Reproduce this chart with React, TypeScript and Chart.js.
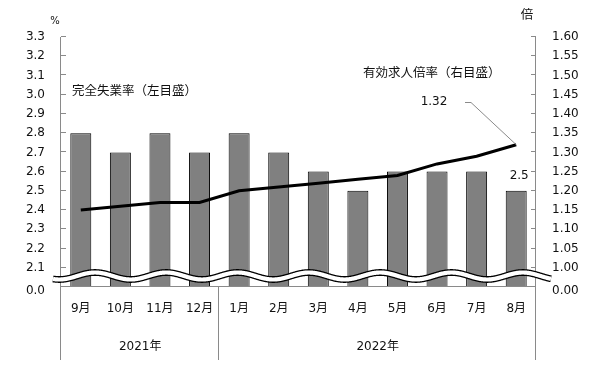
import React, { useEffect, useRef } from "react";
import { Chart, registerables } from "chart.js";

Chart.register(...registerables);

const months = ["9月", "10月", "11月", "12月", "1月", "2月", "3月", "4月", "5月", "6月", "7月", "8月"];
const unemployment = [2.8, 2.7, 2.8, 2.7, 2.8, 2.7, 2.6, 2.5, 2.6, 2.6, 2.6, 2.5];
const jobRatio = [1.15, 1.16, 1.17, 1.17, 1.2, 1.21, 1.22, 1.23, 1.24, 1.27, 1.29, 1.32];
const yearLabels = ["2021年", "2022年"];
const yearSpans = [4, 8];
const leftMin = 2.0;
const leftMax = 3.3;
const leftStep = 0.1;
const rightMin = 0.95;
const rightMax = 1.6;
const rightStep = 0.05;
const leftBreakLabel = "0.0";
const rightBreakLabel = "0.00";
const unemploymentTitle = "完全失業率（左目盛）";
const ratioTitle = "有効求人倍率（右目盛）";
const leftUnit = "%";
const rightUnit = "倍";

const FONT = "'DejaVu Sans', 'Noto Sans CJK JP', sans-serif";
const TEXT = "#111111";
const AXIS = "#8a8a8a";

function drawWave(ctx: any, area: any) {
  const cy = area.bottom - 11;
  const amp = 3.5;
  const period = 71.3;
  const x0 = area.left - 8;
  const x1 = area.right + 15;
  const path = () => {
    ctx.beginPath();
    for (let x = x0; x <= x1; x += 0.5) {
      const y = cy - amp * Math.cos((2 * Math.PI * (x - (area.left + 34))) / period);
      if (x === x0) ctx.moveTo(x, y);
      else ctx.lineTo(x, y);
    }
  };
  ctx.save();
  ctx.lineCap = "butt";
  path();
  ctx.strokeStyle = "#000";
  ctx.lineWidth = 6.8;
  ctx.stroke();
  path();
  ctx.strokeStyle = "#fff";
  ctx.lineWidth = 4.2;
  ctx.stroke();
  ctx.restore();
}

const decorPlugin = {
  id: "decor",
  afterDraw(chart: any) {
    const ctx = chart.ctx;
    const area = chart.chartArea;
    const xs = chart.scales.x;
    const yl = chart.scales.y;
    const yr = chart.scales.y2;
    const bottomExt = 360;
    ctx.save();
    // axes
    ctx.strokeStyle = AXIS;
    ctx.lineWidth = 1;
    ctx.beginPath();
    ctx.moveTo(area.left - 0.5, area.top);
    ctx.lineTo(area.left - 0.5, bottomExt);
    ctx.moveTo(area.right - 0.5, area.top);
    ctx.lineTo(area.right - 0.5, bottomExt);
    ctx.moveTo(area.left, area.bottom - 0.5);
    ctx.lineTo(area.right, area.bottom - 0.5);
    // year separators
    let idx = 0;
    for (let i = 0; i < yearSpans.length - 1; i++) {
      idx += yearSpans[i];
      const sx = Math.round((xs.getPixelForValue(idx - 1) + xs.getPixelForValue(idx)) / 2) - 0.5;
      ctx.moveTo(sx, area.bottom);
      ctx.lineTo(sx, bottomExt);
    }
    ctx.stroke();
    // tick marks
    ctx.beginPath();
    yl.ticks.forEach((t: any, i: number) => {
      if (i === 0) return;
      const y = Math.round(yl.getPixelForValue(t.value)) - 0.5;
      ctx.moveTo(area.left, y);
      ctx.lineTo(area.left + 5, y);
    });
    yr.ticks.forEach((t: any, i: number) => {
      if (i === 0) return;
      const y = Math.round(yr.getPixelForValue(t.value)) - 0.5;
      ctx.moveTo(area.right - 5, y);
      ctx.lineTo(area.right, y);
    });
    ctx.stroke();
    // wave break over bars and axes
    drawWave(ctx, area);

    // break labels
    ctx.fillStyle = TEXT;
    ctx.font = `12px ${FONT}`;
    ctx.textBaseline = "middle";
    ctx.textAlign = "right";
    ctx.fillText(leftBreakLabel, area.left - 16, yl.getPixelForValue(leftMin) + 4);
    ctx.textAlign = "left";
    ctx.fillText(rightBreakLabel, area.right + 16, yr.getPixelForValue(rightMin) + 4);

    // month labels
    ctx.textAlign = "center";
    months.forEach((m, i) => {
      ctx.fillText(m, xs.getPixelForValue(i), area.bottom + 22);
    });
    // year labels
    let start = 0;
    yearLabels.forEach((yl2, i) => {
      const end = start + yearSpans[i] - 1;
      const left = start === 0 ? area.left : (xs.getPixelForValue(start - 1) + xs.getPixelForValue(start)) / 2;
      const right = end === months.length - 1 ? area.right : (xs.getPixelForValue(end) + xs.getPixelForValue(end + 1)) / 2;
      ctx.fillText(yl2, (left + right) / 2, area.bottom + 60);
      start += yearSpans[i];
    });
    // units
    ctx.font = `10px ${FONT}`;
    ctx.fillText(leftUnit, area.left - 6, 21);
    ctx.font = `12.5px ${FONT}`;
    ctx.fillText(rightUnit, area.right - 9, 16);
    // series titles
    ctx.textAlign = "left";
    ctx.fillText(unemploymentTitle, area.left + 11, yl.getPixelForValue(3.0) - 3);
    ctx.fillText(ratioTitle, 363, yr.getPixelForValue(1.5) - 2);
    // last values
    const n = months.length - 1;
    const barMeta = chart.getDatasetMeta(1).data[n];
    ctx.font = `12px ${FONT}`;
    ctx.textAlign = "center";
    ctx.fillText(unemployment[n].toFixed(1), barMeta.x + 3, barMeta.y - 15);
    const lp = chart.getDatasetMeta(0).data[n];
    ctx.fillText(jobRatio[n].toFixed(2), 434, 102);
    ctx.strokeStyle = "#8a8a8a";
    ctx.lineWidth = 1;
    ctx.beginPath();
    ctx.moveTo(465, 102.5);
    ctx.lineTo(471, 102.5);
    ctx.lineTo(lp.x, lp.y);
    ctx.stroke();
    ctx.restore();
  },
};

export default function App() {
  const ref = useRef<HTMLCanvasElement | null>(null);
  useEffect(() => {
    if (!ref.current) return;
    const chart = new Chart(ref.current, {
      type: "bar",
      data: {
        labels: months,
        datasets: [
          {
            type: "line",
            data: jobRatio,
            yAxisID: "y2",
            borderColor: "#000",
            borderWidth: 3,
            pointRadius: 0,
            tension: 0,
            order: 0,
          } as any,
          {
            type: "bar",
            data: unemployment,
            yAxisID: "y",
            backgroundColor: "#808080",
            borderColor: "#000",
            borderWidth: 1,
            barPercentage: 0.53,
            categoryPercentage: 1,
            order: 1,
          },
        ],
      },
      options: {
        animation: false,
        responsive: false,
        devicePixelRatio: 1,
        layout: { padding: { top: 37, left: 0, right: 0, bottom: 0 } },
        plugins: { legend: { display: false }, tooltip: { enabled: false } },
        scales: {
          x: {
            grid: { display: false, drawTicks: false },
            border: { display: false },
            ticks: { display: false },
            afterFit: (s: any) => {
              s.height = 83;
            },
          },
          y: {
            position: "left",
            min: leftMin,
            max: leftMax,
            grid: { display: false, drawTicks: false },
            border: { display: false },
            ticks: {
              stepSize: leftStep,
              padding: 16,
              color: TEXT,
              font: { family: FONT, size: 12 },
              callback: (v: any) => (Math.abs(Number(v) - leftMin) < 1e-6 ? "" : Number(v).toFixed(1)),
            },
            afterFit: (s: any) => {
              s.width = 61;
            },
          },
          y2: {
            position: "right",
            min: rightMin,
            max: rightMax,
            grid: { display: false, drawTicks: false },
            border: { display: false },
            ticks: {
              stepSize: rightStep,
              padding: 16,
              color: TEXT,
              font: { family: FONT, size: 12 },
              callback: (v: any) => (Math.abs(Number(v) - rightMin) < 1e-6 ? "" : Number(v).toFixed(2)),
            },
            afterFit: (s: any) => {
              s.width = 70;
            },
          },
        },
      },
      plugins: [decorPlugin],
    });
    return () => chart.destroy();
  }, []);
  return (
    <div style={{ position: "fixed", left: 0, top: 0, width: 606, height: 370, background: "#fff" }}>
      <canvas ref={ref} width={606} height={370} style={{ display: "block", width: 606, height: 370 }} />
    </div>
  );
}
